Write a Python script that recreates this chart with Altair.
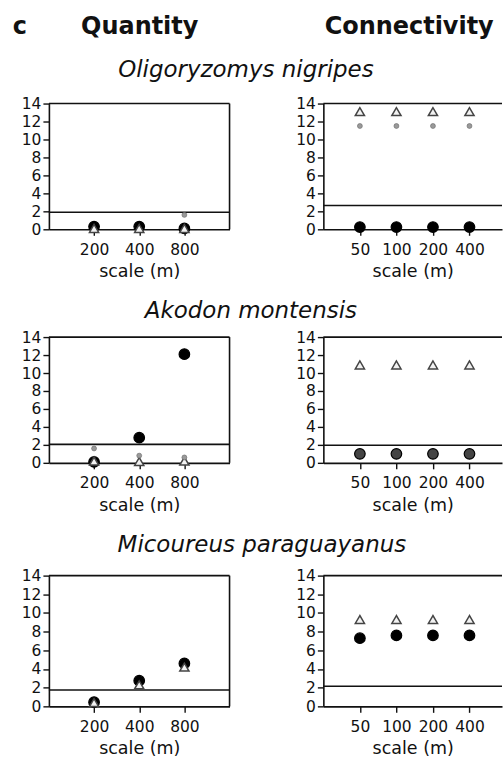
import altair as alt
import pandas as pd

FONT = "DejaVu Sans"
INK = "#111111"

# ---------------- data ----------------
panel_letter = "c"
column_titles = ["Quantity", "Connectivity"]
species = ["Oligoryzomys nigripes", "Akodon montensis", "Micoureus paraguayanus"]
quantity_scales = ["200", "400", "800"]
connectivity_scales = ["50", "100", "200", "400"]
axis_title = "scale (m)"
y_ticks = [0, 2, 4, 6, 8, 10, 12, 14]

# Quantity column: one list per species, one value per scale
quantity_circle = [[0.3, 0.3, 0.1], [0.1, 2.8, 12.1], [0.45, 2.75, 4.6]]
quantity_triangle = [[0.1, 0.1, 0.1], [0.2, 0.15, 0.2], [0.4, 2.3, 4.2]]
quantity_dot = [[None, None, 1.6], [1.6, 0.8, 0.6], [None, None, None]]
quantity_threshold = [1.9, 2.05, 1.75]

# Connectivity column
connectivity_circle = [[0.25, 0.25, 0.25, 0.25], [1.0, 1.0, 1.0, 1.0], [7.3, 7.6, 7.6, 7.6]]
connectivity_triangle = [[13.1, 13.1, 13.1, 13.1], [10.9, 10.9, 10.9, 10.9], [9.3, 9.3, 9.3, 9.3]]
connectivity_dot = [[11.5, 11.5, 11.5, 11.5], [None, None, None, None], [None, None, None, None]]
connectivity_threshold = [2.65, 1.95, 2.15]

# ---------------- styles ----------------
quantity_circle_fill = ["#000000", "#000000", "#000000"]
connectivity_circle_fill = ["#000000", "#444444", "#000000"]
row_heights = [126, 126, 131]
title_offsets = [-3, -11, -6]
title_dx = [-8, -3, 8]
LEFT_W, LEFT_XMAX = 181, 4.0
RIGHT_W, RIGHT_XMAX = 179, 4.89


def build_panel(scales, circle, triangle, dot, threshold, width, height, x_max,
                right_border, circle_fill):
    rows = []
    for i, s in enumerate(scales):
        for series, vals in (("circle", circle), ("triangle", triangle), ("dot", dot)):
            if vals[i] is not None:
                rows.append({"pos": i + 1, "scale": s, "series": series, "value": vals[i]})
    df = pd.DataFrame(rows)
    label_expr = "[" + ",".join(["''"] + ["'%s'" % s for s in scales]) + "][datum.value]"
    x = alt.X("pos:Q",
              scale=alt.Scale(domain=[0, x_max], nice=False, zero=False),
              axis=alt.Axis(values=list(range(1, len(scales) + 1)), labelExpr=label_expr,
                            title=axis_title, labelFlush=False, labelOverlap=False))
    y = alt.Y("value:Q", scale=alt.Scale(domain=[0, 14], nice=False),
              axis=alt.Axis(values=y_ticks, title=None, labelOverlap=False, labelFlush=False,
                            minExtent=44, maxExtent=44))
    base = alt.Chart(df).encode(x=x, y=y)
    circles = base.transform_filter("datum.series == 'circle'").mark_circle(
        size=112, opacity=1, fill=circle_fill, stroke="#000000", strokeWidth=1.2)
    triangles = base.transform_filter("datum.series == 'triangle'").mark_point(
        shape="triangle-up", size=85, filled=True, opacity=1, fill="#f2f2f2",
        stroke="#444444", strokeWidth=1.5)
    dots = base.transform_filter("datum.series == 'dot'").mark_circle(
        size=24, opacity=1, fill="#9a9a9a", stroke="#6f6f6f", strokeWidth=0.7)
    thr = alt.Chart(pd.DataFrame({"value": [threshold]})).mark_rule(
        color=INK, strokeWidth=1.6).encode(y=y)
    top = alt.Chart(pd.DataFrame({"value": [14]})).mark_rule(
        color=INK, strokeWidth=1.6).encode(y=y)
    layers = [thr, top]
    if right_border:
        right = alt.Chart(pd.DataFrame({"pos": [x_max]})).mark_rule(
            color=INK, strokeWidth=1.6).encode(x=x)
        layers.append(right)
    layers += [circles, triangles, dots]
    return alt.layer(*layers).properties(width=width, height=height)


rows = []
for k, name in enumerate(species):
    left = build_panel(quantity_scales, quantity_circle[k], quantity_triangle[k], quantity_dot[k],
                       quantity_threshold[k], LEFT_W, row_heights[k], LEFT_XMAX, True,
                       quantity_circle_fill[k])
    right = build_panel(connectivity_scales, connectivity_circle[k], connectivity_triangle[k],
                        connectivity_dot[k], connectivity_threshold[k], RIGHT_W, row_heights[k],
                        RIGHT_XMAX, False, connectivity_circle_fill[k])
    row = alt.hconcat(left, right, spacing=49).properties(
        title=alt.TitleParams(text=name, font=FONT, fontSize=23, fontStyle="italic",
                              fontWeight="normal", color=INK, anchor="middle",
                              baseline="alphabetic", offset=title_offsets[k], dx=title_dx[k]))
    rows.append(row)

header_df = pd.DataFrame({"text": [panel_letter] + column_titles})
header_x = [-29, 91, 361]
header_layers = []
for i in range(3):
    header_layers.append(
        alt.Chart(header_df.iloc[[i]]).mark_text(
            font=FONT, fontSize=24, fontWeight="bold", color=INK, baseline="top",
            align="center").encode(text="text:N", x=alt.value(header_x[i]), y=alt.value(0)))
header = alt.layer(*header_layers).properties(width=440, height=22)

chart = alt.concat(header, *rows, columns=1, spacing=20, align="none").properties(
    padding={"left": 5, "top": 14, "right": 0, "bottom": 2}
).configure_view(stroke=None).configure_axis(
    grid=False, domainColor=INK, domainWidth=1.6, tickColor=INK, tickWidth=1.4, tickSize=6,
    labelFont=FONT, labelFontSize=15.5, labelColor=INK, titleFont=FONT, titleFontSize=17.5,
    titleFontWeight="normal", titleColor=INK, labelOverlap=False
).configure_axisY(labelPadding=2).configure_axisX(labelPadding=7, titlePadding=5)

chart.save("out.html", embed_options={"renderer": "svg", "actions": False})
